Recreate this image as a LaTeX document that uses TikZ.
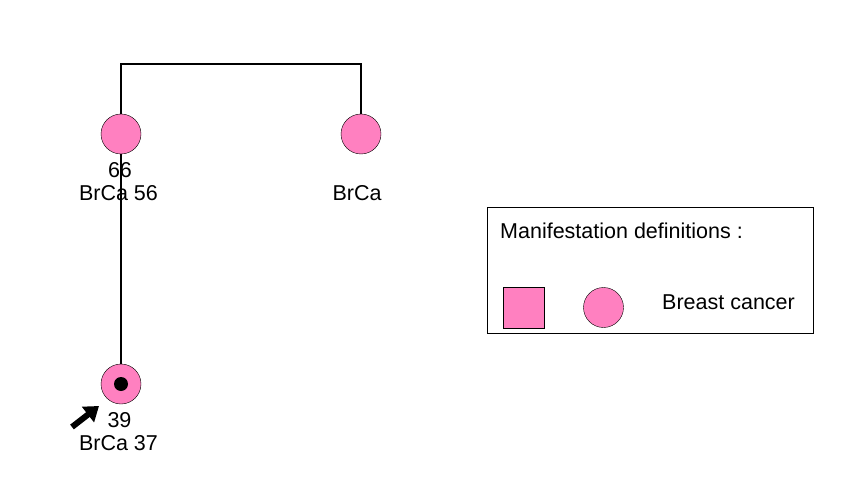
\documentclass[tikz,border=0pt]{standalone}
\usepackage{fontspec}
\setmainfont{Liberation Sans}
\usepackage{tikz}
\usetikzlibrary{arrows.meta,positioning}
\definecolor{brcapink}{RGB}{255,128,192}

\tikzset{
  female/.style={circle, draw=black, fill=brcapink, minimum size=40pt, inner sep=0pt},
  affsq/.style={rectangle, draw=black, fill=brcapink, minimum size=41pt, inner sep=0pt},
  lbl/.style={inner sep=0pt, font=\fontsize{21.5}{24}\selectfont},
  line/.style={draw=black, line width=1.3pt}
}

\begin{document}
\begin{tikzpicture}[x=1pt,y=-1pt]
    \useasboundingbox (0,0) rectangle (856,481);
    % mother and her sister
    \node[female] (mother) at (121,134) {};
    \node[female] (aunt) at (361,134) {};
    \coordinate (sibl) at (121,64);
    \coordinate (sibr) at (361,64);
    % proband
    \node[female] (proband) at (121,384) {};
    \fill (proband.center) circle (7pt);
    \node[lbl] (magea) at (120,170) {66};
    \node[lbl] (mdx) at (118.5,193) {BrCa 56};
    \node[lbl] (adx) at (357,193) {BrCa};
    \node[lbl] (page) at (119.5,420) {39};
    \node[lbl] (pdx) at (118.5,443) {BrCa 37};
    \draw[line] (mother.north) -- (sibl) -- (sibr) -- (aunt.north);
    \draw[line] (mother.south) -- (proband.north);
    \coordinate (ptail) at (72,427);
    \coordinate (ptip) at (99,406);
    \draw[line width=6pt, -{Triangle[length=14pt,width=19pt]}] (ptail) -- (ptip);
    % legend
    \node[draw=black, line width=1.3pt, minimum width=326pt, minimum height=126pt,
      inner sep=0pt] (legend) at (650.5,270.5) {};
    \node[lbl, anchor=west] (legtitle) at (500,231) {Manifestation definitions :};
    \node[affsq] (legsq) at (523.5,307.5) {};
    \node[female] (legcirc) at (603.5,307.5) {};
    \node[lbl, anchor=west] (legtxt) at (662,302) {Breast cancer};
\end{tikzpicture}
\end{document}
